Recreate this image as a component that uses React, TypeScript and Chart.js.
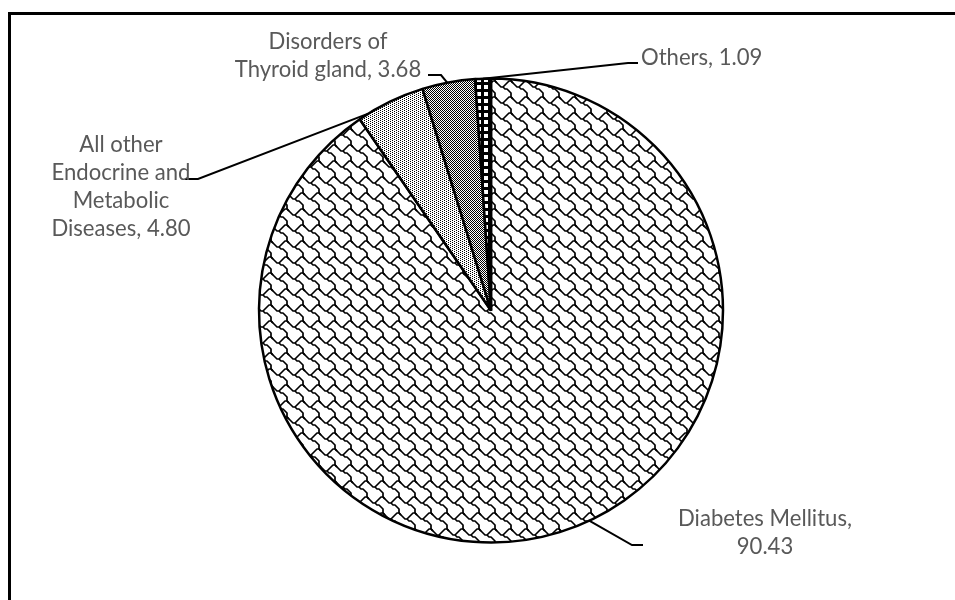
import { useEffect, useRef } from 'react';
import { Chart, registerables } from 'chart.js';

Chart.register(...registerables);

const categories = [
  'Diabetes Mellitus',
  'All other Endocrine and Metabolic Diseases',
  'Disorders of Thyroid gland',
  'Others',
];
const values = [90.43, 4.8, 3.68, 1.09];
// label text split into lines as in the reference; the value is appended
const labelPrefixLines = [
  ['Diabetes Mellitus,'],
  ['All other', 'Endocrine and', 'Metabolic', 'Diseases,'],
  ['Disorders of', 'Thyroid gland,'],
  ['Others,'],
];
const valueOnNewLine = [true, false, false, false];

// label placement (layout only)
const labelLayout = [
  { frac: 0.476, elbow: [632, 545], end: [643, 545], x: 765, y: 526, align: 'center' },
  { frac: 0.145, elbow: [198, 179], end: [185, 179], x: 121, y: 152, align: 'center' },
  { frac: 0.475, elbow: [441, 75], end: [428, 75], x: 328, y: 49, align: 'center' },
  { frac: 0.5, elbow: [628, 63], end: [638, 63], x: 641, y: 65, align: 'left' },
];

function bitmapPattern(rows: string[], scale: number, fg: string, bg: string): CanvasPattern | string {
  const c = document.createElement('canvas');
  const h = rows.length;
  const w = rows[0].length;
  c.width = w * scale;
  c.height = h * scale;
  const ctx = c.getContext('2d');
  if (!ctx) return bg;
  ctx.fillStyle = bg;
  ctx.fillRect(0, 0, c.width, c.height);
  ctx.fillStyle = fg;
  for (let y = 0; y < h; y++) {
    for (let x = 0; x < w; x++) {
      if (rows[y][x] === '1') ctx.fillRect(x * scale, y * scale, scale, scale);
    }
  }
  const p = ctx.createPattern(c, 'repeat');
  return p || bg;
}

function shinglePattern(): CanvasPattern | string {
  const size = 16;
  const c = document.createElement('canvas');
  c.width = size;
  c.height = size;
  const ctx = c.getContext('2d');
  if (!ctx) return '#fff';
  ctx.fillStyle = '#fff';
  ctx.fillRect(0, 0, size, size);
  const pathA = [[-1, 0], [0, 1], [1, 2], [2, 3], [3, 3], [4, 2], [5, 1], [6, 0], [7, 0], [8, 1]];
  const pathB = [[3, 3], [4, 4], [5, 4], [6, 5], [7, 6], [7, 7], [7, 8]];
  ctx.strokeStyle = '#000';
  ctx.lineWidth = 1.7;
  ctx.lineJoin = 'round';
  for (const dx of [-size, 0, size]) {
    for (const dy of [-size, 0, size]) {
      for (const path of [pathA, pathB]) {
        ctx.beginPath();
        path.forEach(([px, py], k) => {
          const X = px * 2 + 1 + dx;
          const Y = py * 2 + 1 + dy;
          if (k === 0) ctx.moveTo(X, Y);
          else ctx.lineTo(X, Y);
        });
        ctx.stroke();
      }
    }
  }
  return ctx.createPattern(c, 'repeat') || '#fff';
}

function buildLines(i: number): string[] {
  const lines = labelPrefixLines[i].slice();
  const v = values[i].toFixed(2);
  if (valueOnNewLine[i]) lines.push(v);
  else lines[lines.length - 1] = lines[lines.length - 1] + ' ' + v;
  return lines;
}

export default function App() {
  const ref = useRef<HTMLCanvasElement | null>(null);

  useEffect(() => {
    const canvas = ref.current;
    if (!canvas) return;

    const shingle = shinglePattern();
    const light = bitmapPattern(['1000', '0010'], 1, '#000', '#fff');
    const dark = bitmapPattern(['10', '01'], 1, '#000', '#fff');
    const squares = bitmapPattern(
      ['1111111', '1000011', '1000011', '1000011', '1000011', '1111111', '1111111'],
      1,
      '#000',
      '#fff'
    );

    const frame = {
      id: 'frame',
      beforeDraw(chart: any) {
        const ctx = chart.ctx;
        ctx.save();
        ctx.fillStyle = '#fff';
        ctx.fillRect(0, 0, chart.width, chart.height);
        ctx.fillStyle = '#000';
        ctx.fillRect(8, 12, 3, chart.height - 12);
        ctx.fillRect(8, 12, chart.width - 8, 3);
        ctx.restore();
      },
    };

    const labels = {
      id: 'pieLabels',
      afterDatasetsDraw(chart: any) {
        const ctx = chart.ctx;
        const meta = chart.getDatasetMeta(0);
        ctx.save();
        ctx.font = '21px Lato';
        const meas = ctx.measureText('Diabetes Mellitus,').width;
        const size = (21 * 174) / meas;
        meta.data.forEach((arc: any, i: number) => {
          const L = labelLayout[i];
          const a = arc.startAngle + L.frac * (arc.endAngle - arc.startAngle);
          const ax = arc.x + arc.outerRadius * Math.cos(a);
          const ay = arc.y + arc.outerRadius * Math.sin(a);
          ctx.strokeStyle = '#000';
          ctx.lineWidth = 2;
          ctx.beginPath();
          ctx.moveTo(ax, ay);
          ctx.lineTo(L.elbow[0], L.elbow[1]);
          ctx.lineTo(L.end[0], L.end[1]);
          ctx.stroke();
          ctx.fillStyle = '#595959';
          ctx.font = size.toFixed(2) + 'px Lato';
          ctx.textAlign = L.align;
          ctx.textBaseline = 'alphabetic';
          buildLines(i).forEach((t, k) => {
            ctx.fillText(t, L.x, L.y + k * 28);
          });
        });
        ctx.restore();
      },
    };

    const chart = new Chart(canvas, {
      type: 'pie',
      data: {
        labels: categories,
        datasets: [
          {
            data: values,
            backgroundColor: [shingle, light, dark, squares] as any,
            borderColor: '#000',
            borderWidth: 2.5,
          },
        ],
      },
      options: {
        responsive: false,
        animation: false,
        radius: 232,
        layout: { padding: { left: 27, right: 0, top: 21, bottom: 0 } },
        plugins: {
          legend: { display: false },
          tooltip: { enabled: false },
        },
      } as any,
      plugins: [frame, labels],
    });

    return () => chart.destroy();
  }, []);

  return (
    <div style={{ position: 'absolute', left: 0, top: 0, width: 955, height: 600 }}>
      <canvas ref={ref} width={955} height={600} style={{ display: 'block', width: 955, height: 600 }} />
    </div>
  );
}
